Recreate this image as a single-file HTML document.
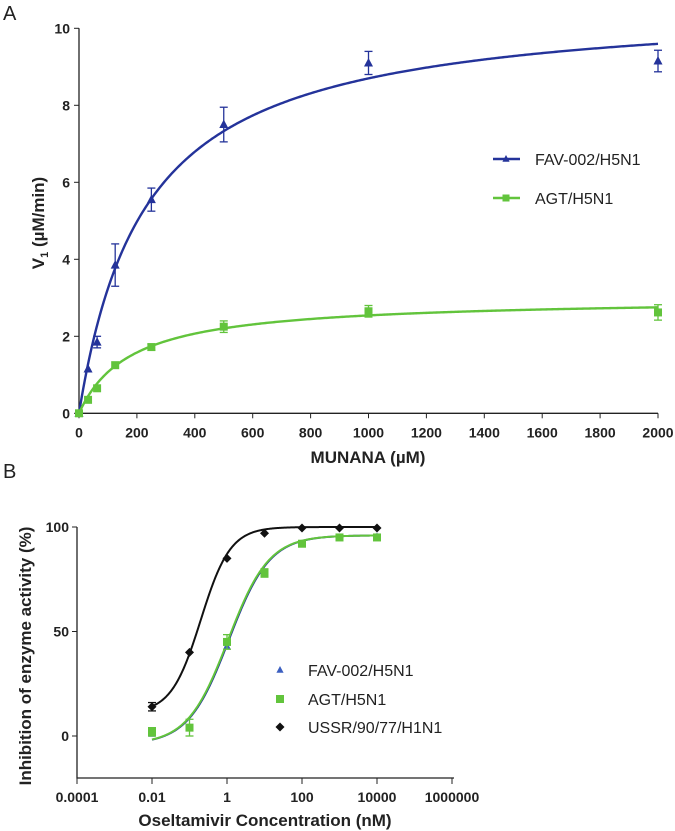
<!DOCTYPE html>
<html><head><meta charset="utf-8"><style>
body{margin:0;background:#fff;}
svg{display:block;font-family:"Liberation Sans",Arial,sans-serif;}
.tk{font-size:14px;font-weight:bold;fill:#222;}
</style></head><body>
<svg id="chart" width="675" height="831" viewBox="0 0 675 831" xmlns="http://www.w3.org/2000/svg">
<text x="3" y="20" font-size="20" fill="#222">A</text>
<text x="3" y="478" font-size="20" fill="#222">B</text>
<g id="pa"></g>
<g id="pb"></g>
</svg>
<script>
// Panel A data
const aX=[0,31.25,62.5,125,250,500,1000,2000];
const aBlue=[0,1.15,1.85,3.85,5.55,7.5,9.1,9.15];
const aBlueErr=[0,0,0.15,0.55,0.3,0.45,0.3,0.28];
const aGreen=[0,0.35,0.65,1.25,1.72,2.25,2.65,2.62];
const aGreenErr=[0,0,0,0,0.08,0.15,0.15,0.2];
const aBlueFit=[10.7,230];
const aGreenFit=[3.0,180];
const aXTicks=[0,200,400,600,800,1000,1200,1400,1600,1800,2000];
const aYTicks=[0,2,4,6,8,10];
// Panel B data
const bX=[0.01,0.1,1,10,100,1000,10000];
const bBlue=[1,4,43,78,92,95,95.5];
const bGreen=[2,4,45,78,92,95,95];
const bGreenErr=[2,4,3.5,2,1,0.5,0.5];
const bBlack=[14,40,85,97,99.5,99.5,99.5];
const bBlackErr=[2,0,0,0,0,0,0];
const bBlueFit=[-4,96,0.05,0.8];
const bGreenFit=[-4,96,0.03,0.8];
const bBlackFit=[11,100,-0.7,1.1];
const bXTicks=[0.0001,0.01,1,100,10000,1000000];
const bXTickLabels=["0.0001","0.01","1","100","10000","1000000"];
const bYTicks=[0,50,100];

const NS="http://www.w3.org/2000/svg";
function mk(p,t,a){const e=document.createElementNS(NS,t);for(const k in a)e.setAttribute(k,a[k]);p.appendChild(e);return e;}
const BLUE="#24339a",GREEN="#62c43c",BLACK="#111";

// ---- Panel A
const pa=document.getElementById('pa');
const ax=v=>79+v/2000*579, ay=v=>413.3-v*38.5;
let e=mk(pa,'path',{d:`M${ax(0)},${ay(10)}V${ay(0)}H${ax(2000)}`,stroke:'#222','stroke-width':1.3,fill:'none'});

aXTicks.forEach(t=>{mk(pa,'line',{x1:ax(t),x2:ax(t),y1:ay(0),y2:ay(0)+5,stroke:'#222'});
 e=mk(pa,'text',{x:ax(t),y:ay(0)+24,'text-anchor':'middle',class:'tk'});e.textContent=t;
 });
aYTicks.forEach(t=>{mk(pa,'line',{x1:ax(0)-5,x2:ax(0),y1:ay(t),y2:ay(t),stroke:'#222'});
 e=mk(pa,'text',{x:ax(0)-9,y:ay(t)+5,'text-anchor':'end',class:'tk'});e.textContent=t;
 });
e=mk(pa,'text',{x:368,y:463,'text-anchor':'middle','font-size':17,'font-weight':'bold',fill:'#222'});e.textContent='MUNANA (µM)';

e=mk(pa,'text',{transform:'translate(44,223) rotate(-90)','text-anchor':'middle','font-size':17,'font-weight':'bold',fill:'#222'});
e.innerHTML='V<tspan font-size="11" dy="4">1</tspan><tspan dy="-4"> (µM/min)</tspan>';

function mmCurve(f,col,name){let d='';for(let i=0;i<=400;i++){const x=2000*i/400;const y=f[0]*x/(f[1]+x);d+=(i?'L':'M')+ax(x).toFixed(2)+','+ay(y).toFixed(2);}
 const p=mk(pa,'path',{d,stroke:col,'stroke-width':2.4,fill:'none'});}
mmCurve(aBlueFit,BLUE,'fit-curve-fav');mmCurve(aGreenFit,GREEN,'fit-curve-agt');
function errBar(g,x,y1,y2,col){mk(g,'line',{x1:x,x2:x,y1,y2,stroke:col,'stroke-width':1.3});
 mk(g,'line',{x1:x-4,x2:x+4,y1,y2:y1,stroke:col,'stroke-width':1.3});mk(g,'line',{x1:x-4,x2:x+4,y1:y2,y2,stroke:col,'stroke-width':1.3});}
function tri(g,x,y,col,s){return mk(g,'path',{d:`M${x},${y-s}L${x+s*0.9},${y+s*0.7}L${x-s*0.9},${y+s*0.7}Z`,fill:col});}
function sq(g,x,y,col,s){return mk(g,'rect',{x:x-s,y:y-s,width:2*s,height:2*s,fill:col});}
function dia(g,x,y,col,s){return mk(g,'path',{d:`M${x},${y-s}L${x+s},${y}L${x},${y+s}L${x-s},${y}Z`,fill:col});}
aX.forEach((x,i)=>{if(aBlueErr[i])errBar(pa,ax(x),ay(aBlue[i]+aBlueErr[i]),ay(aBlue[i]-aBlueErr[i]),BLUE);
 e=tri(pa,ax(x),ay(aBlue[i]),BLUE,5);
 if(aGreenErr[i])errBar(pa,ax(x),ay(aGreen[i]+aGreenErr[i]),ay(aGreen[i]-aGreenErr[i]),GREEN);
 e=sq(pa,ax(x),ay(aGreen[i]),GREEN,4);});
// legend A
mk(pa,'line',{x1:493,x2:520,y1:159,y2:159,stroke:BLUE,'stroke-width':2.4});tri(pa,506,159,BLUE,4);
e=mk(pa,'text',{x:535,y:165,'font-size':16,fill:'#222'});e.textContent='FAV-002/H5N1';
mk(pa,'line',{x1:493,x2:520,y1:198,y2:198,stroke:GREEN,'stroke-width':2.4});sq(pa,506,198,GREEN,3.5);
e=mk(pa,'text',{x:535,y:204,'font-size':16,fill:'#222'});e.textContent='AGT/H5N1';

// ---- Panel B
const pb=document.getElementById('pb');
const bx=v=>77+(Math.log10(v)+4)*37.5, by=v=>736-v*2.09;
e=mk(pb,'path',{d:`M77,${by(100)}V778H454`,stroke:'#222','stroke-width':1.3,fill:'none'});

bXTicks.forEach((t,i)=>{mk(pb,'line',{x1:bx(t),x2:bx(t),y1:778,y2:784,stroke:'#222'});
 e=mk(pb,'text',{x:bx(t),y:802,'text-anchor':'middle',class:'tk','font-size':13});e.textContent=bXTickLabels[i];
 });
bYTicks.forEach(t=>{mk(pb,'line',{x1:72,x2:77,y1:by(t),y2:by(t),stroke:'#222'});
 e=mk(pb,'text',{x:69,y:by(t)+5,'text-anchor':'end',class:'tk'});e.textContent=t;
 });
e=mk(pb,'text',{x:265,y:826,'text-anchor':'middle','font-size':17,'font-weight':'bold',fill:'#222'});e.textContent='Oseltamivir Concentration (nM)';

e=mk(pb,'text',{transform:'translate(31,656) rotate(-90)','text-anchor':'middle','font-size':17,'font-weight':'bold',fill:'#222'});e.textContent='Inhibition of enzyme activity (%)';

function sig(f,col,name){let d='';for(let i=0;i<=300;i++){const lx=-2+6*i/300;const y=f[0]+(f[1]-f[0])/(1+Math.pow(10,(f[2]-lx)*f[3]));d+=(i?'L':'M')+bx(Math.pow(10,lx)).toFixed(2)+','+by(y).toFixed(2);}
 const p=mk(pb,'path',{d,stroke:col,'stroke-width':2,fill:'none'});}
sig(bBlackFit,BLACK,'fit-curve-ussr');sig(bBlueFit,BLUE,'fit-curve-fav-b');sig(bGreenFit,GREEN,'fit-curve-agt-b');
bX.forEach((x,i)=>{
 e=tri(pb,bx(x),by(bBlue[i]),"#3b5fc0",4);
 if(bGreenErr[i])errBar(pb,bx(x),by(bGreen[i]+bGreenErr[i]),by(bGreen[i]-bGreenErr[i]),GREEN);
 e=sq(pb,bx(x),by(bGreen[i]),GREEN,4);
 if(bBlackErr[i])errBar(pb,bx(x),by(bBlack[i]+bBlackErr[i]),by(bBlack[i]-bBlackErr[i]),BLACK);
 e=dia(pb,bx(x),by(bBlack[i]),BLACK,4.5);});
tri(pb,280,670,"#3b5fc0",4);
e=mk(pb,'text',{x:308,y:676,'font-size':16,fill:'#222'});e.textContent='FAV-002/H5N1';
sq(pb,280,699,GREEN,4);
e=mk(pb,'text',{x:308,y:705,'font-size':16,fill:'#222'});e.textContent='AGT/H5N1';
dia(pb,280,727,BLACK,4.5);
e=mk(pb,'text',{x:308,y:733,'font-size':16,fill:'#222'});e.textContent='USSR/90/77/H1N1';
</script>
</body></html>
